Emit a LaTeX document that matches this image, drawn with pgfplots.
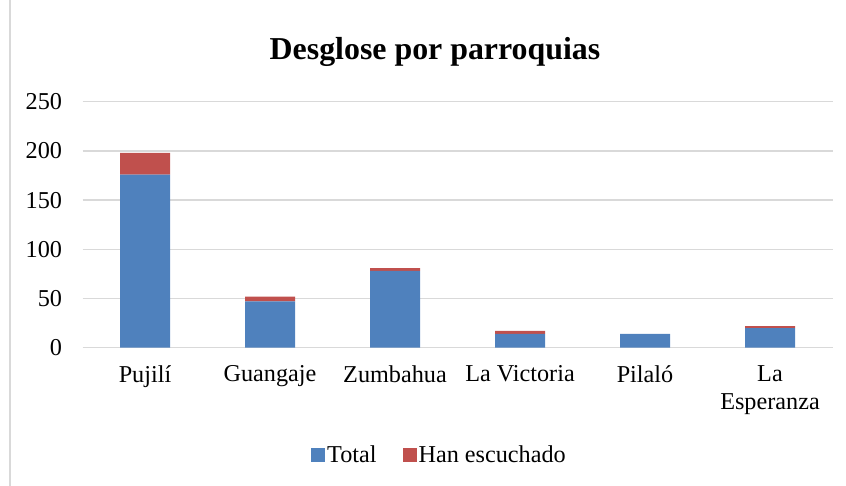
\documentclass[border=0pt]{standalone}
\usepackage{fontspec}
\setmainfont{Liberation Serif}
\usepackage{pgfplots}
\pgfplotsset{compat=1.18}
\definecolor{serTotal}{HTML}{4F81BD}
\definecolor{serHan}{HTML}{C0504D}
\definecolor{gridGray}{HTML}{D9D9D9}
\begin{document}
\begin{tikzpicture}[x=1bp,y=1bp]
\useasboundingbox (0,0) rectangle (846,-486);
\draw[gridGray, line width=1.5bp] (10,0) -- (10,-486);
\node[font=\fontsize{32}{38}\selectfont\bfseries] at (435,-52) {Desglose por parroquias};
\begin{axis}[
  at={(82.5bp,-347.7bp)}, anchor=south west,
  scale only axis, width=750bp, height=246bp,
  ybar stacked, bar width=50bp,
  xmin=-0.5, xmax=5.5, ymin=0, ymax=250,
  ytick={0,50,...,250}, xtick={0,...,5},
  xticklabels={Pujilí,Guangaje,Zumbahua,La Victoria,Pilaló,{La\\Esperanza}},
  axis line style={draw=none}, tick style={draw=none},
  ymajorgrids, grid style={gridGray, line width=1.5bp},
  /pgf/number format/assume math mode=true,
  y tick label style={font=\fontsize{24.3}{28}\selectfont, anchor=east, xshift=-17bp},
  x tick label style={font=\fontsize{24.3}{28.5}\selectfont, align=center, anchor=north, yshift=-14bp},
  legend columns=2,
  legend style={draw=none, at={(0.476,-0.436)}, anchor=center, font=\fontsize{24.3}{28}\selectfont,
    /tikz/every even column/.append style={column sep=24bp}},
  legend image code/.code={\fill[#1] (0bp,-7bp) rectangle (14bp,7bp);},
]
\addplot[fill=serTotal, draw=none] coordinates {(0,176) (1,47) (2,78) (3,14) (4,14) (5,20)};
\addplot[fill=serHan, draw=none] coordinates {(0,22) (1,5) (2,3) (3,3) (4,0) (5,2)};
\legend{Total, Han escuchado}
\end{axis}
\end{tikzpicture}
\end{document}
